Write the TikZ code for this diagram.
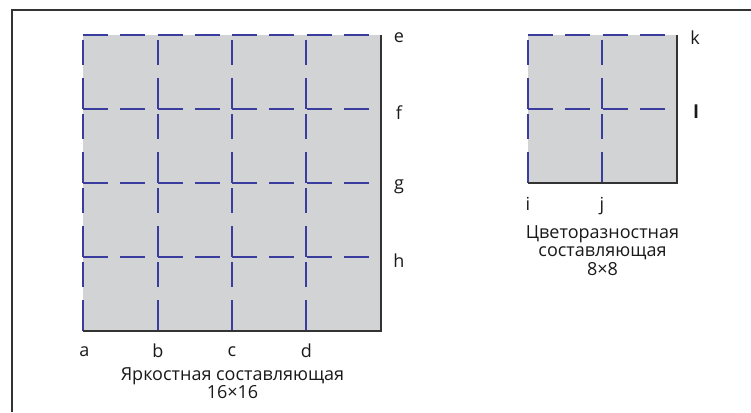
\documentclass[tikz,border=0pt]{standalone}
\usepackage{fontspec}
\setmainfont{Open Sans}
\definecolor{gridgray}{HTML}{D1D3D4}
\definecolor{gridblue}{HTML}{3A3C9E}
\definecolor{edgegray}{HTML}{333333}
\tikzset{
  gridline/.style={draw=gridblue, line width=1.8pt, dash pattern=on 25pt off 12.25pt},
  vgridline/.style={draw=gridblue, line width=1.8pt, dash pattern=on 25pt off 13pt on 31pt off 5pt, dash phase=69pt},
  edgeline/.style={draw=edgegray, line width=1.8pt},
  lbl/.style={font=\fontsize{18}{18}\selectfont, inner sep=0pt, text=black!90},
  captext/.style={font=\fontsize{18}{18.5}\selectfont, align=center, inner sep=0pt, text=black!90}
}
\begin{document}
\begin{tikzpicture}[x=1pt,y=-1pt]
\useasboundingbox (0,0) rectangle (751,412);
% frame
\draw[line width=2pt, edgegray] (12,412) -- (12,10) -- (751,10);
% big square 16x16
\fill[gridgray] (83,35) rectangle (381,331);
\foreach \yy in {35,109,183,257} \draw[gridline] (83,\yy) -- (377,\yy);
\foreach \xx in {83,158,232,306} \draw[vgridline] (\xx,35) -- (\xx,331);
\draw[edgeline] (381,35) -- (381,331) -- (83,331);
% small square 8x8
\fill[gridgray] (528,35) rectangle (677,183);
\foreach \yy in {35,109} \draw[gridline] (528,\yy) -- (672,\yy);
\foreach \xx in {528,602} \draw[vgridline] (\xx,35) -- (\xx,183);
\draw[edgeline] (677,35) -- (677,183) -- (528,183);
% labels big
\node[lbl] (la) at (84.5,352) {a};
\node[lbl] (lb) at (158,351) {b};
\node[lbl] (lc) at (232,352) {c};
\node[lbl] (ld) at (306.5,351) {d};
\node[lbl] (le) at (399,38) {e};
\node[lbl] (lf) at (399,113) {f};
\node[lbl] (lg) at (399,187) {g};
\node[lbl] (lh) at (399,261) {h};
\node[captext, anchor=north] (capbig) at (232.5,367) {Яркостная составляющая\\16×16};
% labels small
\node[lbl] (lk) at (695,38) {k};
\node[lbl, font=\fontsize{18}{18}\selectfont\bfseries] (ll) at (696,112) {l};
\node[lbl] (li) at (528,204) {i};
\node[lbl] (lj) at (602,206) {j};
\node[captext, anchor=north] (capsmall) at (602.5,225) {Цветоразностная\\составляющая\\8×8};
\end{tikzpicture}
\end{document}
